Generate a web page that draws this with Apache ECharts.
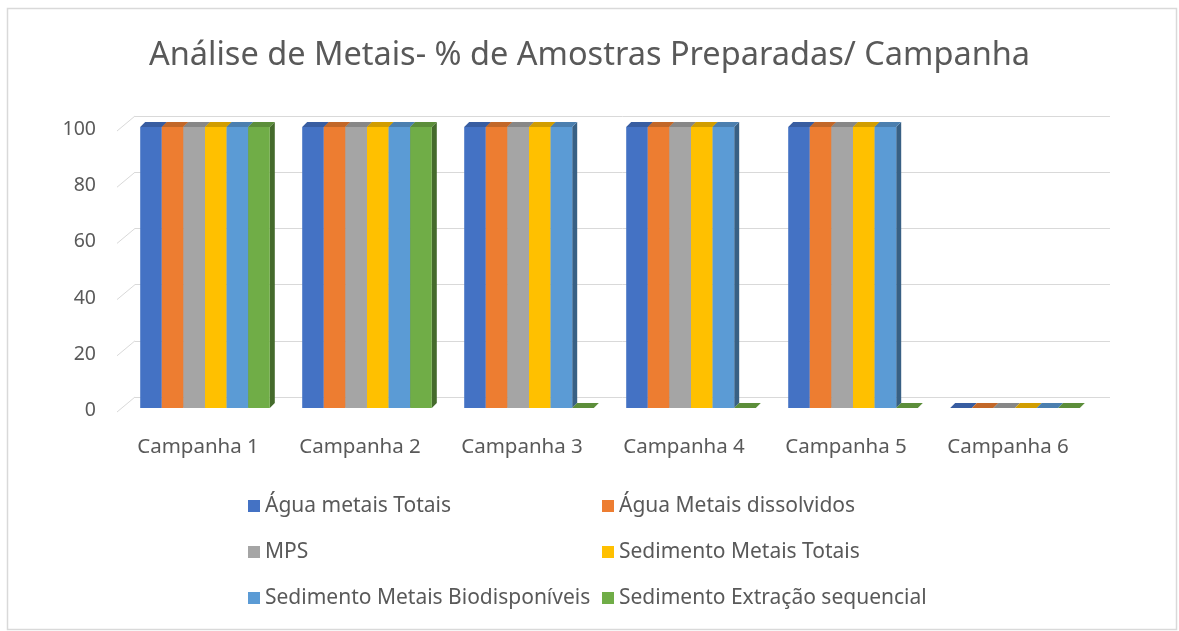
<!DOCTYPE html>
<html>
<head>
<meta charset="utf-8">
<script src="https://cdn.jsdelivr.net/npm/echarts@6/dist/echarts.min.js"></script>
<style>html,body{margin:0;padding:0;background:#fff}#c{width:1179px;height:631px}</style>
</head>
<body>
<div id="c"></div>
<script>
const titleText = 'Análise de Metais- % de Amostras Preparadas/ Campanha';
const categories = ['Campanha 1', 'Campanha 2', 'Campanha 3', 'Campanha 4', 'Campanha 5', 'Campanha 6'];
const seriesNames = ['Água metais Totais', 'Água Metais dissolvidos', 'MPS', 'Sedimento Metais Totais', 'Sedimento Metais Biodisponíveis', 'Sedimento Extração sequencial'];
const aguaTotais = [100, 100, 100, 100, 100, 0];
const aguaDissolvidos = [100, 100, 100, 100, 100, 0];
const mps = [100, 100, 100, 100, 100, 0];
const sedTotais = [100, 100, 100, 100, 100, 0];
const sedBiodisp = [100, 100, 100, 100, 100, 0];
const sedExtracao = [100, 100, 0, 0, 0, 0];
const yTicks = [0, 20, 40, 60, 80, 100];
const seriesValues = [aguaTotais, aguaDissolvidos, mps, sedTotais, sedBiodisp, sedExtracao];
const colors = ['#4472C4', '#ED7D31', '#A5A5A5', '#FFC000', '#5B9BD5', '#70AD47'];

function shade(hex, f) {
  const n = parseInt(hex.slice(1), 16);
  const r = Math.round(((n >> 16) & 255) * f), g = Math.round(((n >> 8) & 255) * f), b = Math.round((n & 255) * f);
  return 'rgb(' + r + ',' + g + ',' + b + ')';
}

const DEPTH = 5, SHIFT = 7, NS = seriesNames.length;
const FONT = '"Noto Sans", "Open Sans", sans-serif';

const barSeries = seriesNames.map((name, i) => ({
  name: name,
  type: 'custom',
  xAxisIndex: 0, yAxisIndex: 0,
  clip: false,
  z: 3 + i,
  itemStyle: { color: colors[i] },
  data: seriesValues[i].map((v, k) => [k, v]),
  encode: { x: 0, y: 1 },
  renderItem: function (params, api) {
    const cat = api.value(0), v = api.value(1);
    const p = api.coord([cat, v]);
    const b = api.coord([cat, 0]);
    const band = api.size([1, 0])[0];
    const gw = band * 0.8, bw = gw / NS;
    const x0 = p[0] - gw / 2 + i * bw + SHIFT;
    const yT = p[1], yB = b[1];
    const c = colors[i];
    const children = [];
    if (yB - yT > 0.5) {
      children.push({ type: 'polygon', shape: { points: [[x0 + bw, yT], [x0 + bw + DEPTH, yT - DEPTH], [x0 + bw + DEPTH, yB - DEPTH], [x0 + bw, yB]] }, style: { fill: shade(c, 0.62) } });
      children.push({ type: 'rect', shape: { x: x0, y: yT, width: bw, height: yB - yT }, style: { fill: c } });
    }
    children.push({ type: 'polygon', shape: { points: [[x0, yT], [x0 + DEPTH, yT - DEPTH], [x0 + bw + DEPTH, yT - DEPTH], [x0 + bw, yT]] }, style: { fill: shade(c, 0.82) } });
    return { type: 'group', children: children };
  }
}));

const tickSeries = {
  type: 'custom',
  xAxisIndex: 0, yAxisIndex: 0,
  clip: false, silent: true, z: 1,
  data: yTicks.map(t => [0, t]),
  encode: { x: 0, y: 1 },
  renderItem: function (params, api) {
    const p = api.coord([0, api.value(1)]);
    const band = api.size([1, 0])[0];
    const xl = p[0] - band / 2;
    return { type: 'line', shape: { x1: xl, y1: p[1] + 4, x2: xl + 18, y2: p[1] - 11 }, style: { stroke: '#d9d9d9', lineWidth: 1 } };
  }
};

const legendText = { fontFamily: FONT, fontSize: 21, color: '#595959', lineHeight: 24 };

const chart = echarts.init(document.getElementById('c'), null, { renderer: 'canvas' });
chart.setOption({
  backgroundColor: '#ffffff',
  animation: false,
  graphic: [{ type: 'rect', shape: { x: 7.5, y: 8.5, width: 1169, height: 621 }, style: { fill: 'none', stroke: '#d9d9d9', lineWidth: 1.5 }, silent: true, z: -10 }],
  title: {
    text: titleText, left: 'center', top: 34,
    textStyle: { fontFamily: FONT, fontSize: 32.5, fontWeight: 'normal', color: '#595959' }
  },
  legend: [
    { data: [seriesNames[0], seriesNames[2], seriesNames[4]], orient: 'vertical', left: 243, top: 489, itemWidth: 12, itemHeight: 12, itemGap: 22, icon: 'rect',
      textStyle: legendText },
    { data: [seriesNames[1], seriesNames[3], seriesNames[5]], orient: 'vertical', left: 597, top: 489, itemWidth: 12, itemHeight: 12, itemGap: 22, icon: 'rect',
      textStyle: legendText }
  ],
  grid: [
    { left: 117, right: 90, top: 127, bottom: 223, containLabel: false },
    { left: 135, right: 69, top: 116, bottom: 234, containLabel: false }
  ],
  xAxis: [
    { type: 'category', gridIndex: 0, data: categories, axisLine: { show: false }, axisTick: { show: false },
      axisLabel: { margin: 29, fontFamily: FONT, fontSize: 20.5, color: '#595959' } },
    { type: 'category', gridIndex: 1, data: categories, show: false }
  ],
  yAxis: [
    { type: 'value', gridIndex: 0, min: 0, max: 100, interval: 20, splitLine: { show: false }, axisLine: { show: false }, axisTick: { show: false },
      axisLabel: { margin: 21, color: '#595959', formatter: '{v|{value}}',
        rich: { v: { fontFamily: FONT, fontSize: 19.5, color: '#595959', padding: [5, 0, 0, 0] } } } },
    { type: 'value', gridIndex: 1, min: 0, max: 100, interval: 20, axisLabel: { show: false }, axisLine: { show: false }, axisTick: { show: false },
      splitLine: { show: true, lineStyle: { color: '#d9d9d9', width: 1 } } }
  ],
  series: [tickSeries].concat(barSeries)
});
</script>
</body>
</html>
